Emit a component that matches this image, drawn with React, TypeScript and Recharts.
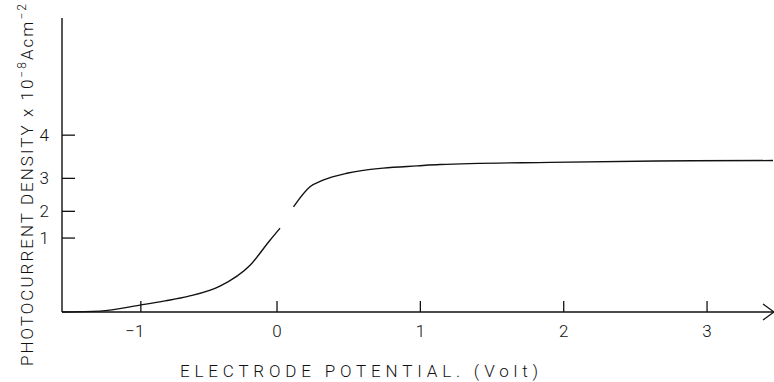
import React from "react";
import { LineChart, Line, XAxis, YAxis, ReferenceDot } from "recharts";

// electrode potential (V)
const potential = [-1.5, -1.235, -0.949, -0.781, -0.621, -0.398, -0.188, -0.049, 0.021, 0.06, 0.115, 0.23, 0.321, 0.495, 0.74, 0.977, 1.137, 1.905, 2.651, 3.46];
// photocurrent density (x 10^-8 A cm^-2), null = break in the drawn trace
const current = [0, 0.02, 0.16, 0.25, 0.35, 0.58, 1.05, 1.61, 1.88, null, 2.36, 2.81, 2.96, 3.12, 3.23, 3.28, 3.31, 3.36, 3.39, 3.4];

const xTicks = [-0.95, 0, 1, 2, 3];
const xTickLabels = ["\u22121", "0", "1", "2", "3"];
const yTicks = [1.66, 2.26, 3.0, 3.97];
const yTickLabels = ["1", "2", "3", "4"];

const data = potential.map((v, i) => ({ v, j: current[i] }));

const FONT = "Roboto, 'Liberation Sans', sans-serif";
const INK = "#111";

const XTick = (props: any) => {
  const { x, y, payload } = props;
  const i = xTicks.indexOf(payload.value);
  const shift = payload.value < 0 ? -6 : 0;
  return (
    <g>
      <line x1={x} y1={y} x2={x} y2={y - 11} stroke={INK} strokeWidth={1.3} />
      <text x={x + shift} y={y + 25} textAnchor="middle" fontSize={17} fontFamily={FONT} fontWeight={300} fill={INK}>
        {xTickLabels[i]}
      </text>
    </g>
  );
};

const YTick = (props: any) => {
  const { x, y, payload } = props;
  const i = yTicks.indexOf(payload.value);
  return (
    <g>
      <line x1={x} y1={y} x2={x + 13} y2={y} stroke={INK} strokeWidth={1.3} />
      <text x={x - 13} y={y + 6} textAnchor="end" fontSize={17} fontFamily={FONT} fontWeight={300} fill={INK}>
        {yTickLabels[i]}
      </text>
    </g>
  );
};

const Arrow = (props: any) => {
  const { cx, cy } = props;
  return (
    <path d={`M${cx - 10},${cy - 8} L${cx + 1},${cy} L${cx - 10},${cy + 8}`} fill="none" stroke={INK} strokeWidth={1.3} />
  );
};

export default function App() {
  return (
    <div style={{ position: "absolute", left: 0, top: 0, background: "#fff" }}>
      <LineChart width={774} height={382} data={data} margin={{ top: 18, right: 0, bottom: 0, left: 0 }}>
        <XAxis
          dataKey="v"
          type="number"
          domain={[-1.5, 3.467]}
          ticks={xTicks}
          interval={0}
          height={70}
          tickSize={0}
          tickMargin={0}
          tickLine={false}
          axisLine={{ stroke: INK, strokeWidth: 1.4 }}
          tick={<XTick />}
        />
        <YAxis
          type="number"
          domain={[0, 6.6]}
          ticks={yTicks}
          interval={0}
          width={62}
          tickSize={0}
          tickMargin={0}
          tickLine={false}
          axisLine={{ stroke: INK, strokeWidth: 1.4 }}
          tick={<YTick />}
        />
        <Line
          dataKey="j"
          type="monotone"
          stroke={INK}
          strokeWidth={1.4}
          dot={false}
          connectNulls={false}
          isAnimationActive={false}
        />
        <ReferenceDot x={3.46} y={0} ifOverflow="visible" shape={<Arrow />} />
        <text
          x={359}
          y={377}
          textAnchor="middle"
          fontSize={17}
          fontFamily={FONT}
          fontWeight={300}
          fill={INK}
          textLength={358}
          lengthAdjust="spacing"
        >
          ELECTRODE POTENTIAL. (Volt)
        </text>
        <text
          x={185}
          y={33}
          transform="rotate(-90 185 185)"
          textAnchor="middle"
          fontSize={17}
          fontFamily={FONT}
          fontWeight={300}
          fill={INK}
          textLength={362}
          lengthAdjust="spacing"
        >
          PHOTOCURRENT DENSITY x 10
          <tspan dy={-7} fontSize={12}>{"\u22128"}</tspan>
          <tspan dy={7}>Acm</tspan>
          <tspan dy={-7} fontSize={12}>{"\u22122"}</tspan>
        </text>
      </LineChart>
    </div>
  );
}
